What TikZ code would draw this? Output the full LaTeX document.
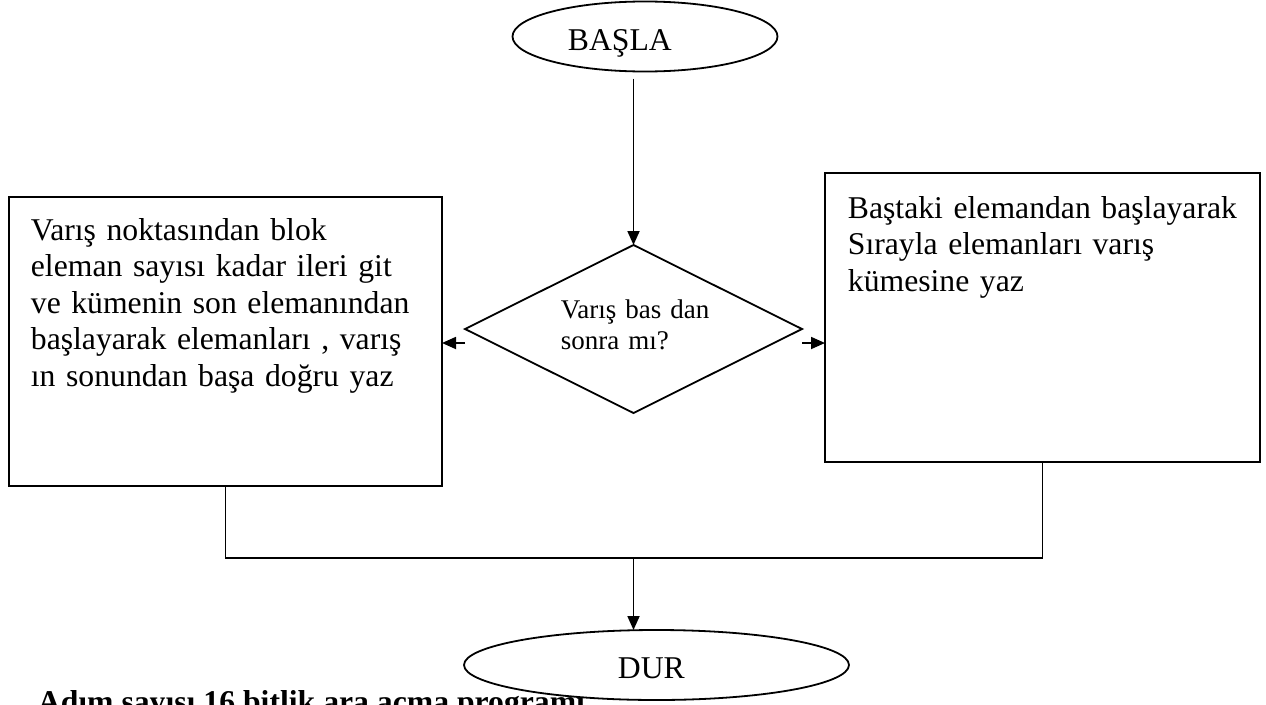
\documentclass[tikz,border=0pt]{standalone}
\usepackage{fontspec}
\setmainfont{Liberation Serif}
\usetikzlibrary{arrows.meta,shapes.geometric}
\begin{document}
\begin{tikzpicture}[x=1pt,y=-1pt,
  line width=1.8pt,
  shapebox/.style={draw, rectangle, inner sep=0pt, outer sep=0pt, anchor=north west, fill=white},
  oval/.style={draw, ellipse, inner sep=0pt, outer sep=0pt, fill=white},
  txt/.style={anchor=base west, inner sep=0pt, align=left, font=\fontsize{31.7}{36.5}\selectfont},
  arr/.style={-{Triangle[length=14pt,width=12pt]}}
]
\useasboundingbox (0,0) rectangle (1266,704);
\fill[white] (0,0) rectangle (1266,704);
\clip (0,0) rectangle (1266,704);

% start
\node[oval, minimum width=265pt, minimum height=70pt] (start) at (645,36.5) {};
\node[txt] (startlbl) at (567,50) {BAŞLA};

% decision
\node[draw, diamond, minimum width=337pt, minimum height=168pt, inner sep=0pt, outer sep=0pt] (dec) at (633.5,329) {};
\node[txt, font=\fontsize{27}{31}\selectfont, text width=200pt] (declbl) at (560,318) {Varış bas dan\\sonra mı?};

% left box
\node[shapebox, minimum width=433pt, minimum height=289pt] (boxL) at (9,197) {};
\node[txt, text width=420pt] (lblL) at (30,240) {Varış noktasından blok\\eleman sayısı kadar ileri git\\ve kümenin son elemanından\\başlayarak elemanları , varış\\ın sonundan başa doğru yaz};

% right box
\node[shapebox, minimum width=435pt, minimum height=289pt] (boxR) at (825,173) {};
\node[txt, text width=410pt] (lblR) at (847,218) {Baştaki elemandan başlayarak\\Sırayla elemanları varış\\kümesine yaz};

% caption (partly hidden)
\node[txt, font=\bfseries\fontsize{31.7}{36.5}\selectfont] (title) at (37,712) {Adım sayısı 16 bitlik ara açma programı};

% stop
\node[oval, minimum width=385pt, minimum height=70pt] (stop) at (656.5,665) {};
\node[txt] (stoplbl) at (617,678) {DUR};

% connectors
\draw[arr, shorten <=7pt] (start.south -| dec.north) -- (dec.north);
\coordinate (dw) at ([yshift=-14pt]dec.west);
\coordinate (de) at ([yshift=-14pt]dec.east);
\draw[arr] (dw) -- (dw -| boxL.east);
\draw[arr] (de) -- (de -| boxR.west);
\coordinate (join) at (633.5,558);
\draw (boxL.south) |- (join) -| (boxR.south);
\draw[arr] (join) -- (join |- stop.north);
\end{tikzpicture}
\end{document}
